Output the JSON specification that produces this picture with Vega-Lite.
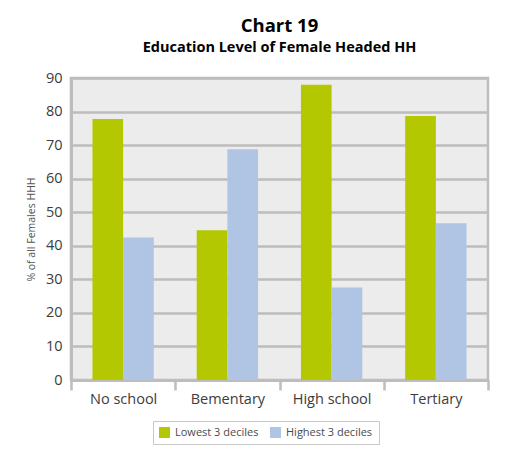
{
  "$schema": "https://vega.github.io/schema/vega-lite/v6.json",
  "autosize": {"type": "none"},
  "width": 417,
  "height": 302,
  "padding": {"left": 71, "top": 78, "right": 38, "bottom": 73},
  "background": "#FFFFFF",
  "title": {
    "text": "Chart 19",
    "subtitle": "Education Level of Female Headed HH",
    "anchor": "middle",
    "font": "Open Sans",
    "fontSize": 18.5,
    "fontWeight": "bold",
    "color": "#000000",
    "subtitleFont": "Open Sans",
    "subtitleFontSize": 14.5,
    "subtitleFontWeight": "bold",
    "subtitleColor": "#000000",
    "subtitlePadding": 5,
    "offset": 16
  },
  "data": {
    "values": [
      {"level": "No school", "group": "Lowest 3 deciles", "pct": 77.8},
      {"level": "No school", "group": "Highest 3 deciles", "pct": 42.5},
      {"level": "Bementary", "group": "Lowest 3 deciles", "pct": 44.6},
      {"level": "Bementary", "group": "Highest 3 deciles", "pct": 68.8},
      {"level": "High school", "group": "Lowest 3 deciles", "pct": 88.0},
      {"level": "High school", "group": "Highest 3 deciles", "pct": 27.6},
      {"level": "Tertiary", "group": "Lowest 3 deciles", "pct": 78.7},
      {"level": "Tertiary", "group": "Highest 3 deciles", "pct": 46.7}
    ]
  },
  "mark": {"type": "bar", "xOffset": 3},
  "encoding": {
    "x": {
      "field": "level",
      "type": "nominal",
      "sort": ["No school", "Bementary", "High school", "Tertiary"],
      "scale": {"paddingInner": 0, "paddingOuter": 0},
      "axis": {
        "title": null,
        "labelAngle": 0,
        "tickBand": "extent",
        "tickSize": 10,
        "tickColor": "#BDBDBD",
        "tickWidth": 2.5,
        "domainColor": "#BDBDBD",
        "domainWidth": 3,
        "labelFont": "Open Sans",
        "labelFontSize": 14.5,
        "labelColor": "#3C3C3C",
        "labelPadding": 2
      }
    },
    "xOffset": {
      "field": "group",
      "type": "nominal",
      "sort": ["Lowest 3 deciles", "Highest 3 deciles"],
      "scale": {"paddingInner": 0, "paddingOuter": 0.7}
    },
    "y": {
      "field": "pct",
      "type": "quantitative",
      "scale": {"domain": [0, 90], "nice": false},
      "axis": {
        "title": "% of all Females HHH",
        "titleFont": "Open Sans",
        "titleFontSize": 10.5,
        "titleFontWeight": "normal",
        "titleColor": "#555555",
        "titlePadding": 9,
        "values": [0, 10, 20, 30, 40, 50, 60, 70, 80, 90],
        "ticks": false,
        "grid": true,
        "gridColor": "#BDBDBD",
        "gridWidth": 2.5,
        "domainColor": "#BDBDBD",
        "domainWidth": 3,
        "labelFont": "Open Sans",
        "labelFontSize": 14.5,
        "labelColor": "#3C3C3C",
        "labelPadding": 9
      }
    },
    "color": {
      "field": "group",
      "type": "nominal",
      "sort": ["Lowest 3 deciles", "Highest 3 deciles"],
      "scale": {
        "domain": ["Lowest 3 deciles", "Highest 3 deciles"],
        "range": ["#B3C800", "#B0C5E3"]
      },
      "legend": {
        "title": null,
        "orient": "none",
        "direction": "horizontal",
        "legendX": 82,
        "legendY": 343,
        "symbolType": "square",
        "symbolSize": 121,
        "symbolStrokeWidth": 0,
        "labelFont": "Open Sans",
        "labelFontSize": 11,
        "labelColor": "#4A4A4A",
        "labelOffset": 5,
        "columnPadding": 11,
        "padding": 6,
        "strokeColor": "#C8C8C8"
      }
    }
  },
  "config": {
    "view": {"fill": "#EBECEB", "stroke": "#BDBDBD", "strokeWidth": 2.5}
  }
}
